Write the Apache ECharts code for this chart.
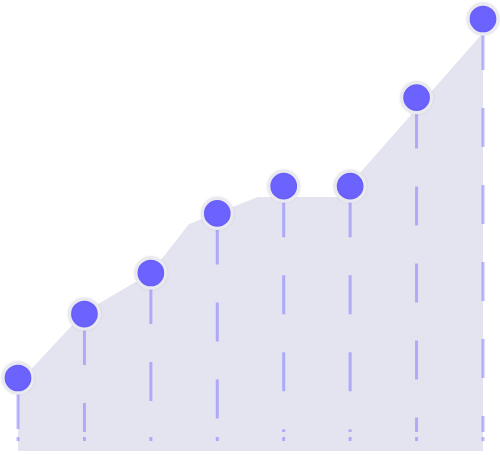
<!DOCTYPE html>
<html>
<head>
<meta charset="utf-8">
<script src="https://cdn.jsdelivr.net/npm/echarts@6/dist/echarts.min.js"></script>
<style>
html, body { margin: 0; padding: 0; background: #fff; }
#main { width: 500px; height: 455px; }
</style>
</head>
<body>
<div id="main"></div>
<script>
// points (one per category)
var categories = ['1', '2', '3', '4', '5', '6', '7', '8'];
var pointValues = [16.9, 31.7, 41.2, 55.0, 61.3, 61.3, 81.8, 100];

// background shape, read as [position on category scale, value]
var areaX = [0, 1, 2, 2.57, 3.61, 4.83, 7];
var areaValues = [15.7, 32.2, 41.2, 52.5, 58.8, 58.8, 96.8];

var mainColor = '#6c63ff';
var stemColor = 'rgba(108, 99, 255, 0.45)';

var areaData = areaX.map(function (x, i) { return [x, areaValues[i]]; });
var stemData = pointValues.map(function (v, i) { return [i, v]; });

// dashed stem from a point down to the base, plus the little dot at the bottom
function renderStem(params, api) {
	var top = api.coord([api.value(0), api.value(1)]);
	var base = api.coord([api.value(0), 0]);
	return {
		type: 'group',
		children: [{
			type: 'line',
			shape: { x1: top[0], y1: top[1] + 12, x2: top[0], y2: base[1] - 19 },
			style: { stroke: stemColor, lineWidth: 3, lineDash: [39, 38] }
		}, {
			type: 'rect',
			shape: { x: top[0] - 1.5, y: base[1] - 14, width: 3, height: 4 },
			style: { fill: stemColor }
		}]
	};
}

var myChart = echarts.init(document.getElementById('main'));
var option = {
	animation: false,
	grid: { left: 18, right: 17, top: 19, bottom: 4 },
	xAxis: [{
		type: 'category',
		data: categories,
		boundaryGap: false,
		show: false
	}, {
		type: 'value',
		min: 0,
		max: 7,
		show: false
	}],
	yAxis: {
		type: 'value',
		min: 0,
		max: 100,
		show: false
	},
	series: [{
		type: 'line',
		xAxisIndex: 1,
		data: areaData,
		symbol: 'none',
		lineStyle: { width: 0 },
		areaStyle: { color: '#e4e4f0', opacity: 1 },
		z: 1
	}, {
		type: 'custom',
		data: stemData,
		encode: { x: 0, y: 1 },
		renderItem: renderStem,
		z: 2
	}, {
		type: 'scatter',
		data: pointValues,
		symbolSize: 30,
		itemStyle: {
			color: mainColor,
			borderColor: '#e9e9ef',
			borderWidth: 3.3,
			shadowBlur: 3,
			shadowColor: 'rgba(0, 0, 0, 0.08)',
			opacity: 1
		},
		z: 3
	}]
};
myChart.setOption(option);
</script>
</body>
</html>
